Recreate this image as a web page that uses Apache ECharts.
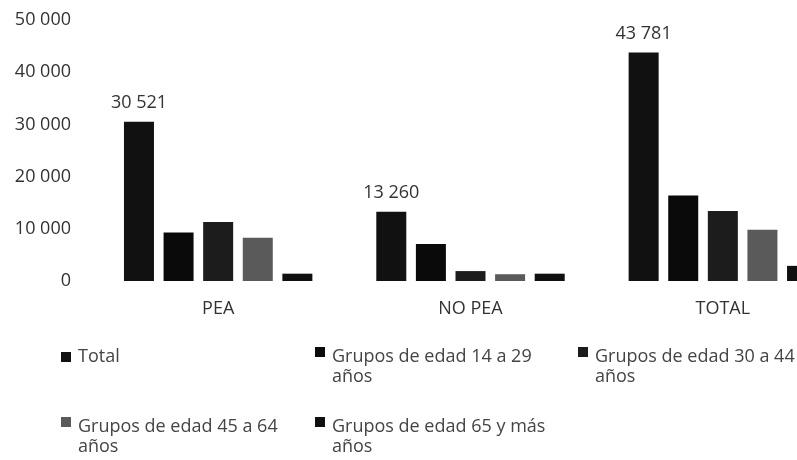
<!DOCTYPE html>
<html>
<head>
    <meta charset="utf-8"/>
    <title>PEA / NO PEA</title>
    <script src="https://cdn.jsdelivr.net/npm/echarts@6/dist/echarts.min.js"></script>
    <style>
        html, body { margin: 0; padding: 0; background: #fff; }
        #main { width: 797px; height: 460px; }
    </style>
</head>
<body>
<div id="main"></div>
<script>
    // datos
    var categorias = ['PEA', 'NO PEA', 'TOTAL'];
    var total      = [30521, 13260, 43781];
    var edad14a29  = [9300, 7100, 16400];
    var edad30a44  = [11300, 1900, 13400];
    var edad45a64  = [8300, 1300, 9800];
    var edad65ymas = [1400, 1400, 2900];
    var yTicks = [0, 10000, 20000, 30000, 40000, 50000];

    var nombres = ['Total', 'Grupos de edad 14 a 29 años', 'Grupos de edad 30 a 44 años',
        'Grupos de edad 45 a 64 años', 'Grupos de edad 65 y más años'];
    var colores = ['#111111', '#0a0a0a', '#1c1c1c', '#5a5a5a', '#101010'];
    var valores = [total, edad14a29, edad30a44, edad45a64, edad65ymas];

    var fuente = '"Open Sans", "Liberation Sans", sans-serif';

    function miles(v) {
        return String(v).replace(/\B(?=(\d{3})+(?!\d))/g, ' ');
    }

    var series = [];
    for (let i = 0; i < nombres.length; i++) {
        var s = {
            name: nombres[i],
            type: 'bar',
            data: valores[i],
            barWidth: 30,
            barGap: '32%',
            itemStyle: { color: colores[i] }
        };
        if (i == 0) {
            s.label = {
                show: true,
                position: 'top',
                distance: 10,
                fontFamily: fuente,
                fontSize: 18,
                color: '#333',
                formatter: function (p) { return miles(p.value); }
            };
        }
        series.push(s);
    }

    // leyenda en 3 columnas, el cuadro alineado con la primera linea
    var posLeyenda = [
        { left: 61, top: 347 },
        { left: 315, top: 347 },
        { left: 578, top: 347 },
        { left: 61, top: 417 },
        { left: 315, top: 417 }
    ];
    var iconoAlto = 'path://M0,0 h10 v10 h-10 Z M0,39.99 h0.01 v0.01 h-0.01 Z';
    var leyendas = [];
    for (let i = 0; i < nombres.length; i++) {
        var multi = i > 0;
        leyendas.push({
            data: [nombres[i]],
            left: posLeyenda[i].left,
            top: posLeyenda[i].top,
            padding: 0,
            icon: multi ? iconoAlto : 'rect',
            itemWidth: 10,
            itemHeight: multi ? 40 : 10,
            itemGap: 0,
            selectedMode: false,
            formatter: function (n) { return n.replace(' años', '\naños'); },
            textStyle: {
                fontFamily: fuente,
                fontSize: 18,
                lineHeight: 20,
                color: '#444',
                padding: [0, 0, 0, 2]
            }
        });
    }

    var myChart = echarts.init(document.getElementById('main'), null, { renderer: 'canvas' });
    var option = {
        backgroundColor: '#fff',
        animation: false,
        legend: leyendas,
        grid: {
            left: 92,
            top: 20,
            width: 757,
            bottom: 179,
            outerBoundsMode: 'none'
        },
        xAxis: {
            type: 'category',
            data: categorias,
            axisLine: { show: false },
            axisTick: { show: false },
            axisLabel: {
                margin: 19,
                fontFamily: fuente,
                fontSize: 18,
                color: '#333'
            }
        },
        yAxis: {
            type: 'value',
            min: yTicks[0],
            max: yTicks[yTicks.length - 1],
            interval: yTicks[1] - yTicks[0],
            axisLine: { show: false },
            axisTick: { show: false },
            splitLine: { show: false },
            axisLabel: {
                margin: 21,
                fontFamily: fuente,
                fontSize: 18,
                color: '#333',
                formatter: function (v) { return miles(v); }
            }
        },
        series: series
    };
    myChart.setOption(option);

    window.onresize = function () {
        myChart.resize();
    };
</script>
</body>
</html>
